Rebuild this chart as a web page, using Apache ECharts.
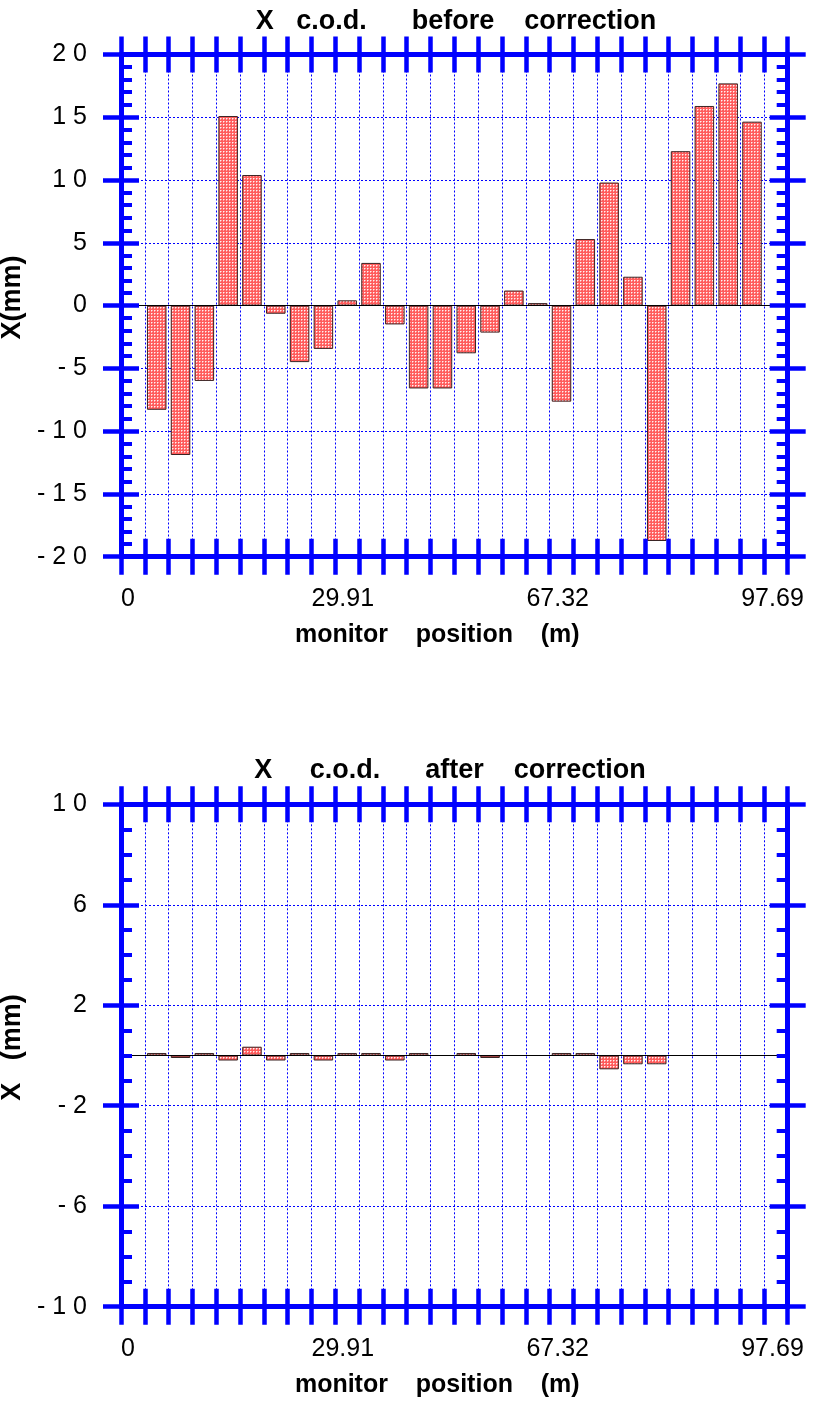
<!DOCTYPE html>
<html>
<head>
<meta charset="utf-8">
<script src="https://cdn.jsdelivr.net/npm/echarts@6/dist/echarts.min.js"></script>
<style>
  html, body { margin: 0; padding: 0; background: #ffffff; }
  #chart { width: 820px; height: 1403px; }
</style>
</head>
<body>
<div id="chart"></div>
<script>
// Horizontal closed-orbit distortion (mm) read at each beam position monitor
const monitors = [
  'BPM01', 'BPM02', 'BPM03', 'BPM04', 'BPM05', 'BPM06', 'BPM07', 'BPM08', 'BPM09',
  'BPM10', 'BPM11', 'BPM12', 'BPM13', 'BPM14', 'BPM15', 'BPM16', 'BPM17', 'BPM18',
  'BPM19', 'BPM20', 'BPM21', 'BPM22', 'BPM23', 'BPM24', 'BPM25', 'BPM26'
];
// the ring has an empty slot before the first and after the last monitor
const slots = ['start', ...monitors, 'end'];

const codBefore = [
  -8.3, -11.9, -6.0, 15.1, 10.4, -0.65, -4.5, -3.45, 0.42, 3.4, -1.5, -6.6, -6.6,
  -3.8, -2.15, 1.2, 0.2, -7.65, 5.3, 9.8, 2.3, -18.75, 12.3, 15.9, 17.7, 14.65
];
const codAfter = [
  0.1, -0.1, 0.1, -0.2, 0.35, -0.2, 0.1, -0.2, 0.1, 0.1, -0.2, 0.1, 0,
  0.1, -0.1, 0, 0, 0.1, 0.1, -0.55, -0.35, -0.35, 0, 0, 0, 0
];

// tick labels
const positionLabels = ['0', '29.91', '67.32', '97.69'];
const beforeTicks = [-20, -15, -10, -5, 0, 5, 10, 15, 20];
const beforeTickLabels = ['- 2 0', '- 1 5', '- 1 0', '- 5', '0', '5', '1 0', '1 5', '2 0'];
const afterTicks = [-10, -6, -2, 2, 6, 10];
const afterTickLabels = ['- 1 0', '- 6', '- 2', '2', '6', '1 0'];

const titleBefore = 'X   c.o.d.      before    correction';
const titleAfter = 'X     c.o.d.      after    correction';
const xName = 'monitor    position    (m)';

const BLUE = '#0000ff';
const FONT = '"Liberation Sans", Arial, Helvetica, sans-serif';

// small red mesh with light dots used to fill the bars
function meshPattern() {
  const c = document.createElement('canvas');
  c.width = 3; c.height = 3;
  const g = c.getContext('2d');
  g.fillStyle = '#ff5c5c'; g.fillRect(0, 0, 3, 3);
  g.fillStyle = '#ffa6a6'; g.fillRect(2, 1, 1, 1); g.fillRect(1, 2, 1, 1);
  g.fillStyle = '#fff2f2'; g.fillRect(1, 1, 1, 1);
  return c;
}
const mesh = { image: meshPattern(), repeat: 'repeat' };

const dotted = { color: BLUE, width: 1, type: [2, 2] };

function xPrimary(gi) {
  return {
    type: 'category', gridIndex: gi, data: slots, position: 'bottom', boundaryGap: true, z: 0,
    axisLine: { show: false, onZero: false }, axisTick: { show: false },
    axisLabel: { show: false },
    splitLine: { show: true, interval: 0, lineStyle: dotted }
  };
}
function xFrame(gi, pos, inside) {
  return {
    type: 'category', gridIndex: gi, data: slots, position: pos, boundaryGap: true, z: 10,
    axisLine: { show: true, onZero: false, lineStyle: { color: BLUE, width: 5 } },
    axisTick: { show: true, inside: inside, length: 18, interval: 0, lineStyle: { color: BLUE, width: 4.5 } },
    axisLabel: { show: false }, splitLine: { show: false }
  };
}
function yPrimary(gi, s) {
  return {
    type: 'value', gridIndex: gi, min: s.min, max: s.max, interval: s.step, position: 'left', z: 0,
    axisLine: { show: false, onZero: false }, axisTick: { show: false },
    axisLabel: { show: false },
    splitLine: { show: true, lineStyle: dotted }
  };
}
function yFrame(gi, s, pos, inside, labelled) {
  const ax = {
    type: 'value', gridIndex: gi, min: s.min, max: s.max, interval: s.step, position: pos, z: 10,
    axisLine: { show: true, onZero: false, lineStyle: { color: BLUE, width: 5 } },
    axisTick: { show: true, inside: inside, length: 18, lineStyle: { color: BLUE, width: 4.5 } },
    minorTick: { show: inside, splitNumber: s.minor, length: 11, lineStyle: { color: BLUE, width: 4 } },
    axisLabel: { show: false }, splitLine: { show: false }
  };
  if (labelled) {
    ax.axisLabel = {
      show: true, margin: 34, color: '#000', fontFamily: FONT, fontSize: 25,
      formatter: v => {
        const i = s.ticks.indexOf(v);
        return i < 0 ? '' : s.labels[i];
      }
    };
    ax.name = s.name;
    ax.nameLocation = 'middle';
    ax.nameRotate = 90;
    ax.nameGap = 82;
    ax.nameTextStyle = { color: '#000', fontFamily: FONT, fontSize: 27, fontWeight: 'bold', padding: [0, 0, 0, 16] };
  }
  return ax;
}
function xLabels(gi) {
  return {
    type: 'category', gridIndex: gi, data: positionLabels, position: 'bottom', boundaryGap: false,
    axisLine: { show: false, onZero: false }, axisTick: { show: false }, splitLine: { show: false },
    axisLabel: { show: true, interval: 0, margin: 30, color: '#000', fontFamily: FONT, fontSize: 25 },
    name: xName, nameLocation: 'middle', nameGap: 66,
    nameTextStyle: { color: '#000', fontFamily: FONT, fontSize: 25, fontWeight: 'bold', padding: [0, 26, 0, 0] }
  };
}

const scaleBefore = { min: -20, max: 20, step: 5, minor: 5, ticks: beforeTicks, labels: beforeTickLabels, name: 'X(mm)' };
const scaleAfter = { min: -10, max: 10, step: 4, minor: 4, ticks: afterTicks, labels: afterTickLabels, name: 'X   (mm)' };

function codSeries(gi, values) {
  return {
    type: 'bar', xAxisIndex: gi * 5, yAxisIndex: gi * 5,
    data: monitors.map((m, i) => [m, values[i]]),
    barWidth: '82%',
    itemStyle: { color: mesh, borderColor: '#3a2424', borderWidth: 1 },
    markLine: {
      silent: true, symbol: 'none', label: { show: false },
      lineStyle: { color: '#000000', width: 1, type: 'solid' },
      data: [{ yAxis: 0 }]
    }
  };
}

const chart = echarts.init(document.getElementById('chart'));
chart.setOption({
  animation: false,
  backgroundColor: '#ffffff',
  title: [
    { text: titleBefore, left: 456, top: 8, textAlign: 'center', padding: 0,
      textStyle: { color: '#000', fontFamily: FONT, fontSize: 27, fontWeight: 'bold' } },
    { text: titleAfter, left: 450, top: 757, textAlign: 'center', padding: 0,
      textStyle: { color: '#000', fontFamily: FONT, fontSize: 27, fontWeight: 'bold' } }
  ],
  grid: [
    { left: 121, right: 32.3, top: 54.5, bottom: 846.3, outerBoundsMode: 'none' },
    { left: 121, right: 32.3, top: 804.3, bottom: 96.3, outerBoundsMode: 'none' },
    { left: 128, right: 47.5, top: 54.5, bottom: 846.3, outerBoundsMode: 'none' },
    { left: 128, right: 47.5, top: 804.3, bottom: 96.3, outerBoundsMode: 'none' }
  ],
  xAxis: [
    xPrimary(0), xFrame(0, 'bottom', true), xFrame(0, 'bottom', false), xFrame(0, 'top', true), xFrame(0, 'top', false),
    xPrimary(1), xFrame(1, 'bottom', true), xFrame(1, 'bottom', false), xFrame(1, 'top', true), xFrame(1, 'top', false),
    xLabels(2), xLabels(3)
  ],
  yAxis: [
    yPrimary(0, scaleBefore), yFrame(0, scaleBefore, 'left', true, false), yFrame(0, scaleBefore, 'left', false, true),
    yFrame(0, scaleBefore, 'right', true, false), yFrame(0, scaleBefore, 'right', false, false),
    yPrimary(1, scaleAfter), yFrame(1, scaleAfter, 'left', true, false), yFrame(1, scaleAfter, 'left', false, true),
    yFrame(1, scaleAfter, 'right', true, false), yFrame(1, scaleAfter, 'right', false, false),
    { type: 'value', gridIndex: 2, show: false }, { type: 'value', gridIndex: 3, show: false }
  ],
  series: [codSeries(0, codBefore), codSeries(1, codAfter)]
});
</script>
</body>
</html>
